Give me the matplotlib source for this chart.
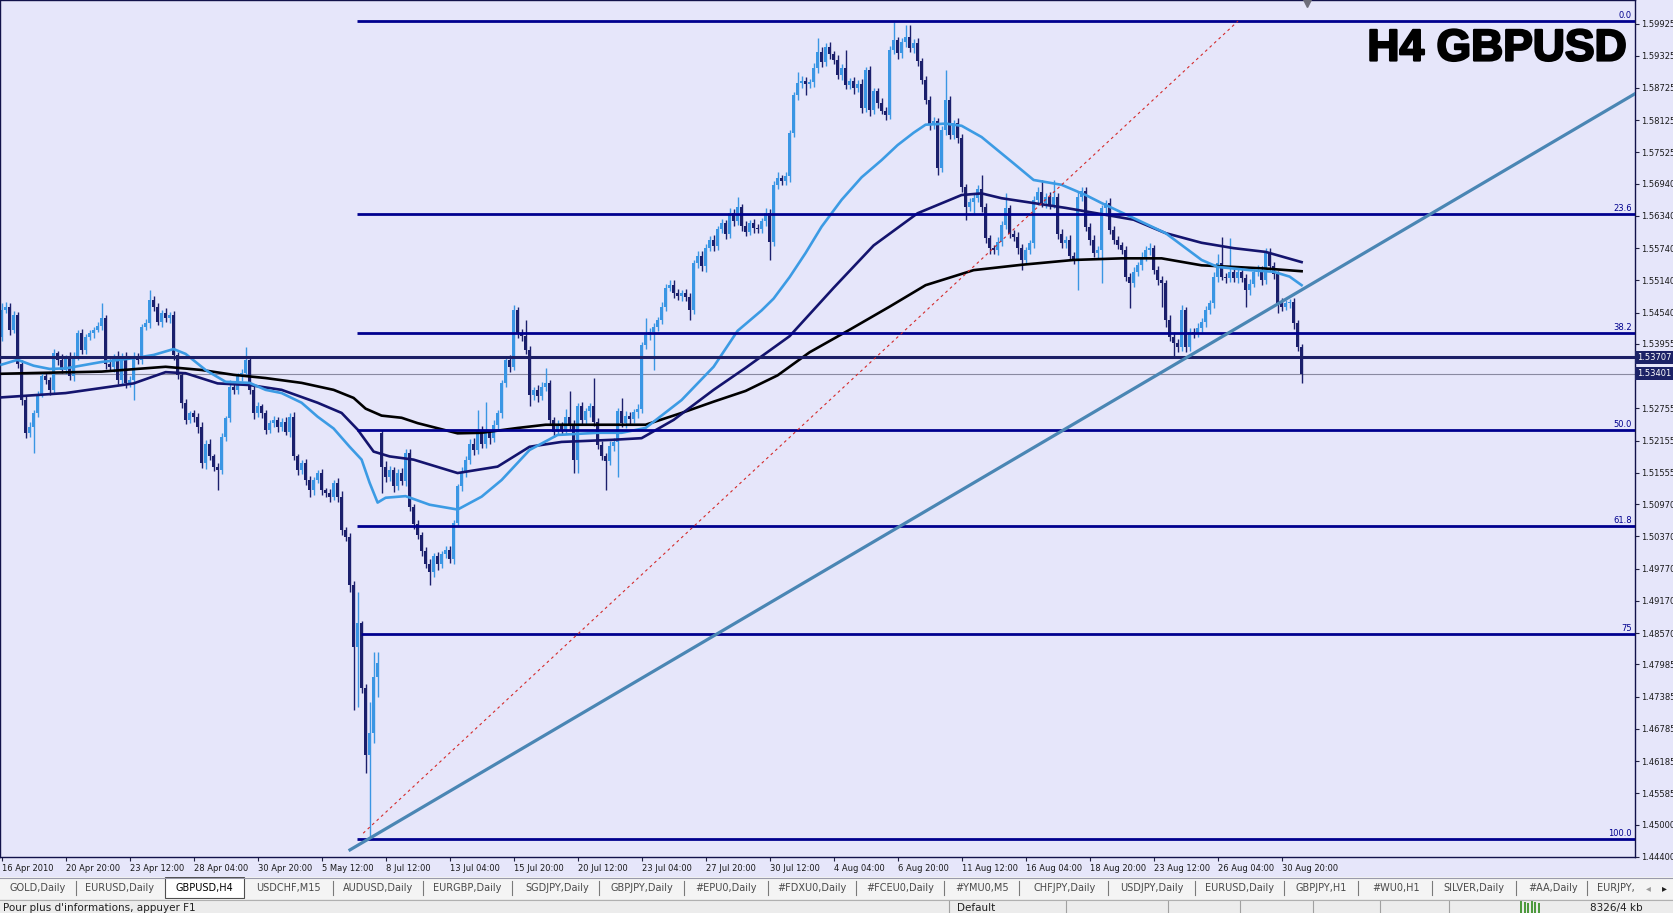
import numpy as np
import matplotlib.pyplot as plt
import matplotlib.patheffects as pe
from matplotlib.patches import Rectangle
from matplotlib.transforms import blended_transform_factory

plt.rcParams['font.family'] = ['DejaVu Sans']

# ---- H4 GBPUSD candles (bar 0 = 16 Apr 2010) ----
first_open = 1.5409
gap_bar = 95          # history hole between 5 May and 8 Jul
gap_open = 1.5229

closes = [
    1.5459, 1.5465, 1.5422, 1.5450, 1.5359, 1.5291, 1.5229, 1.5241, 1.5266, 1.5303,
    1.5335, 1.5328, 1.5310, 1.5378, 1.5366, 1.5347, 1.5369, 1.5335, 1.5372, 1.5415,
    1.5384, 1.5409, 1.5415, 1.5422, 1.5429, 1.5443, 1.5359, 1.5353, 1.5372, 1.5328,
    1.5372, 1.5322, 1.5328, 1.5372, 1.5366, 1.5428, 1.5434, 1.5477, 1.5465, 1.5437,
    1.5453, 1.5443, 1.5449, 1.5375, 1.5338, 1.5285, 1.5254, 1.5266, 1.5260, 1.5241,
    1.5173, 1.5210, 1.5186, 1.5167, 1.5161, 1.5223, 1.5257, 1.5316, 1.5310, 1.5335,
    1.5341, 1.5366, 1.5310, 1.5266, 1.5279, 1.5266, 1.5235, 1.5248, 1.5254, 1.5241,
    1.5251, 1.5232, 1.5260, 1.5186, 1.5161, 1.5173, 1.5142, 1.5123, 1.5142, 1.5155,
    1.5123, 1.5117, 1.5110, 1.5136, 1.5111, 1.5049, 1.5036, 1.4946, 1.4831, 1.4875,
    1.4754, 1.4630, 1.4671, 1.4775, 1.4801, 1.5167, 1.5148, 1.5160, 1.5130, 1.5155,
    1.5140, 1.5192, 1.5092, 1.5060, 1.5040, 1.5010, 1.4985, 1.4970, 1.5000, 1.4985,
    1.5005, 1.5012, 1.4995, 1.5062, 1.5130, 1.5155, 1.5180, 1.5210, 1.5198, 1.5235,
    1.5210, 1.5230, 1.5220, 1.5245, 1.5266, 1.5322, 1.5366, 1.5353, 1.5459, 1.5415,
    1.5410, 1.5384, 1.5300, 1.5310, 1.5298, 1.5316, 1.5322, 1.5254, 1.5232, 1.5245,
    1.5236, 1.5260, 1.5245, 1.5180, 1.5279, 1.5254, 1.5270, 1.5280, 1.5250, 1.5208,
    1.5186, 1.5178, 1.5205, 1.5212, 1.5270, 1.5248, 1.5262, 1.5255, 1.5268, 1.5275,
    1.5393, 1.5412, 1.5418, 1.5428, 1.5440, 1.5465, 1.5500, 1.5505, 1.5490, 1.5485,
    1.5490, 1.5483, 1.5459, 1.5546, 1.5560, 1.5540, 1.5575, 1.5590, 1.5578, 1.5610,
    1.5620, 1.5600, 1.5640, 1.5625, 1.5650, 1.5615, 1.5605, 1.5620, 1.5612, 1.5610,
    1.5625, 1.5639, 1.5586, 1.5692, 1.5705, 1.5700, 1.5708, 1.5788, 1.5859, 1.5881,
    1.5886, 1.5880, 1.5884, 1.5909, 1.5940, 1.5921, 1.5949, 1.5935, 1.5925, 1.5897,
    1.5910, 1.5878, 1.5885, 1.5872, 1.5880, 1.5835, 1.5906, 1.5831, 1.5866, 1.5844,
    1.5830, 1.5822, 1.5943, 1.5962, 1.5937, 1.5958, 1.5968, 1.5946, 1.5956, 1.5922,
    1.5887, 1.5850, 1.5804, 1.5810, 1.5723, 1.5794, 1.5850, 1.5785, 1.5807, 1.5779,
    1.5688, 1.5651, 1.5660, 1.5667, 1.5685, 1.5651, 1.5592, 1.5574, 1.5570, 1.5586,
    1.5617, 1.5648, 1.5601, 1.5595, 1.5574, 1.5552, 1.5570, 1.5583, 1.5663, 1.5679,
    1.5658, 1.5670, 1.5655, 1.5670, 1.5601, 1.5583, 1.5590, 1.5560, 1.5552, 1.5670,
    1.5680, 1.5614, 1.5589, 1.5565, 1.5570, 1.5648, 1.5658, 1.5608, 1.5590, 1.5580,
    1.5570, 1.5521, 1.5509, 1.5530, 1.5543, 1.5558, 1.5571, 1.5574, 1.5533, 1.5515,
    1.5509, 1.5440, 1.5409, 1.5397, 1.5390, 1.5459, 1.5390, 1.5418, 1.5415, 1.5425,
    1.5437, 1.5459, 1.5471, 1.5521, 1.5546, 1.5521, 1.5518, 1.5530, 1.5518, 1.5530,
    1.5518, 1.5496, 1.5508, 1.5530, 1.5533, 1.5515, 1.5567, 1.5540, 1.5525, 1.5472,
    1.5465, 1.5471, 1.5474, 1.5434, 1.5390, 1.5340,
]

# wick lengths in pips above / below each body
wick_up = [
    13, 8, 6, 7, 5, 6, 8, 10, 6, 5,
    7, 9, 6, 8, 5, 10, 6, 12, 8, 6,
    9, 5, 7, 6, 8, 28, 6, 9, 5, 10,
    6, 8, 7, 9, 6, 5, 8, 19, 7, 6,
    5, 9, 6, 8, 5, 6, 8, 5, 7, 6,
    9, 6, 8, 5, 7, 6, 5, 12, 8, 6,
    7, 24, 6, 8, 9, 5, 7, 6, 8, 5,
    6, 9, 7, 8, 5, 6, 8, 7, 5, 6,
    7, 5, 8, 6, 9, 10, 6, 8, 7, 58,
    5, 8, 58, 47, 21, 6, 10, 8, 6, 7,
    9, 8, 7, 6, 8, 5, 7, 9, 6, 8,
    5, 7, 8, 6, 5, 12, 6, 8, 10, 38,
    7, 58, 6, 8, 7, 6, 5, 9, 9, 6,
    8, 30, 7, 6, 9, 8, 28, 7, 6, 9,
    6, 15, 47, 8, 6, 9, 7, 6, 52, 8,
    7, 6, 9, 8, 6, 24, 8, 7, 6, 9,
    6, 31, 8, 7, 6, 9, 8, 10, 10, 7,
    6, 8, 7, 6, 9, 8, 7, 6, 8, 5,
    9, 7, 8, 6, 20, 7, 9, 6, 8, 7,
    6, 9, 8, 7, 10, 6, 8, 7, 6, 22,
    8, 7, 6, 9, 25, 8, 7, 9, 6, 8,
    7, 33, 6, 8, 7, 9, 6, 8, 7, 6,
    9, 7, 8, 34, 6, 8, 22, 22, 7, 9,
    6, 8, 7, 9, 6, 8, 56, 7, 6, 9,
    8, 6, 7, 9, 6, 25, 8, 7, 6, 9,
    8, 28, 7, 6, 9, 8, 6, 7, 9, 8,
    22, 7, 8, 31, 6, 9, 7, 8, 6, 9,
    8, 7, 6, 9, 8, 7, 6, 9, 8, 7,
    6, 8, 7, 9, 6, 8, 7, 10, 6, 8,
    7, 6, 9, 8, 7, 10, 6, 8, 7, 9,
    6, 8, 7, 9, 18, 49, 7, 62, 8, 6,
    9, 7, 8, 6, 9, 7, 7, 7, 8, 6,
    9, 7, 6, 8, 7, 6,
]
wick_dn = [
    8, 6, 9, 7, 8, 10, 9, 6, 49, 7,
    6, 8, 10, 7, 9, 6, 8, 7, 9, 6,
    8, 7, 6, 9, 5, 8, 10, 7, 9, 8,
    7, 9, 6, 37, 8, 7, 6, 9, 8, 7,
    9, 6, 8, 10, 7, 9, 8, 6, 9, 12,
    8, 10, 7, 9, 38, 7, 9, 6, 8, 7,
    9, 6, 8, 10, 7, 9, 8, 6, 7, 9,
    8, 7, 9, 6, 10, 7, 9, 12, 8, 6,
    9, 7, 8, 6, 9, 10, 8, 12, 117, 112,
    9, 34, 155, 19, 37, 50, 9, 8, 10, 7,
    8, 9, 7, 10, 8, 9, 7, 23, 8, 10,
    7, 9, 8, 10, 6, 9, 7, 8, 10, 7,
    9, 8, 10, 7, 9, 8, 7, 9, 6, 8,
    9, 7, 21, 8, 10, 7, 9, 8, 10, 7,
    9, 8, 7, 25, 25, 9, 7, 10, 8, 9,
    7, 55, 8, 9, 64, 7, 9, 8, 7, 10,
    8, 7, 9, 71, 8, 7, 9, 6, 8, 7,
    9, 8, 19, 7, 9, 8, 10, 7, 9, 8,
    7, 9, 8, 10, 7, 9, 8, 7, 9, 8,
    7, 9, 34, 8, 7, 9, 8, 10, 7, 9,
    8, 20, 7, 9, 8, 10, 7, 9, 8, 7,
    9, 8, 7, 10, 8, 9, 7, 11, 8, 9,
    7, 9, 8, 7, 10, 8, 9, 7, 8, 9,
    8, 7, 9, 8, 13, 7, 9, 8, 7, 9,
    10, 25, 8, 20, 7, 9, 8, 10, 7, 9,
    8, 7, 9, 8, 10, 19, 8, 7, 9, 8,
    7, 9, 8, 7, 10, 8, 9, 7, 8, 56,
    9, 8, 10, 7, 9, 61, 8, 7, 9, 8,
    7, 9, 47, 8, 7, 9, 8, 10, 7, 9,
    44, 12, 8, 25, 9, 7, 10, 8, 9, 7,
    8, 9, 7, 8, 10, 7, 9, 8, 7, 9,
    8, 31, 9, 7, 8, 10, 7, 8, 9, 19,
    8, 7, 9, 10, 8, 18,
]

# moving averages, read at the bars where they could be seen
fast_bars = [0, 4, 8, 12, 16, 25, 33, 38, 43, 46, 51, 56, 62, 66, 70, 75, 79, 83, 87, 90,
             92, 94, 96, 101, 107, 114, 120, 125, 132, 139, 149, 155, 161, 170, 178, 184,
             190, 193, 197, 201, 205, 210, 215, 220, 224, 228, 231, 236, 240, 245, 253,
             258, 265, 271, 275, 283, 291, 300, 304, 312, 318, 322, 325]
fast_ma = [1.5357, 1.5366, 1.5355, 1.5349, 1.5350, 1.5362, 1.5369, 1.5375, 1.5386, 1.5377,
           1.5347, 1.5325, 1.5323, 1.5310, 1.5304, 1.5286, 1.5260, 1.5238, 1.5204, 1.5180,
           1.5137, 1.5100, 1.5109, 1.5112, 1.5096, 1.5087, 1.5111, 1.5142, 1.5198, 1.5226,
           1.5230, 1.5230, 1.5239, 1.5291, 1.5353, 1.5420, 1.5458, 1.5480, 1.5520, 1.5565,
           1.5614, 1.5664, 1.5706, 1.5738, 1.5766, 1.5789, 1.5804, 1.5806, 1.5802, 1.5781,
           1.5732, 1.5701, 1.5692, 1.5673, 1.5658, 1.5630, 1.5602, 1.5552, 1.5539, 1.5533,
           1.5530, 1.5521, 1.5505]
mid_bars = [0, 16, 33, 41, 46, 54, 62, 70, 79, 85, 89, 93, 97, 103, 114, 124, 132, 140,
            153, 160, 168, 178, 186, 197, 208, 218, 229, 240, 245, 250, 266, 283, 291,
            300, 308, 316, 325]
mid_ma = [1.5296, 1.5304, 1.5322, 1.5343, 1.5341, 1.5322, 1.5319, 1.5310, 1.5286, 1.5267,
          1.5236, 1.5195, 1.5186, 1.5180, 1.5155, 1.5167, 1.5204, 1.5213, 1.5217, 1.5220,
          1.5254, 1.5310, 1.5351, 1.5410, 1.5500, 1.5579, 1.5639, 1.5673, 1.5676, 1.5667,
          1.5649, 1.5627, 1.5602, 1.5584, 1.5574, 1.5567, 1.5548]
slow_bars = [0, 12, 25, 41, 50, 58, 66, 75, 83, 88, 91, 95, 100, 104, 114, 120, 129, 136,
             149, 161, 170, 178, 186, 194, 202, 212, 222, 231, 243, 255, 268, 280, 290, 300,
             316, 325]
slow_ma = [1.5340, 1.5342, 1.5344, 1.5353, 1.5347, 1.5338, 1.5332, 1.5323, 1.5310, 1.5295,
           1.5275, 1.5262, 1.5258, 1.5248, 1.5229, 1.5230, 1.5239, 1.5245, 1.5245, 1.5245,
           1.5267, 1.5288, 1.5308, 1.5337, 1.5380, 1.5422, 1.5465, 1.5505, 1.5533, 1.5543,
           1.5552, 1.5555, 1.5555, 1.5542, 1.5536, 1.5531]

# drawn objects
fib_high = 1.5997
fib_low = 1.4474
fib_levels = [0.0, 23.6, 38.2, 50.0, 61.8, 75.0, 100.0]
fib_names = ['0.0', '23.6', '38.2', '50.0', '61.8', '75', '100.0']
fib_start = [88.85, 88.85, 88.85, 88.85, 88.85, 89.85, 88.85]
support_price = 1.53707
bid_price = 1.53401
trend_bars = [87.1, 409.1]
trend_prices = [1.4453, 1.5865]
fib_base_bars = [90.4, 309.1]
fib_base_prices = [1.4484, 1.5997]

yticks = [1.59925, 1.59325, 1.58725, 1.58125, 1.57525, 1.56940, 1.56340, 1.55740,
          1.55140, 1.54540, 1.53955, 1.52755, 1.52155, 1.51555, 1.50970, 1.50370,
          1.49770, 1.49170, 1.48570, 1.47985, 1.47385, 1.46785, 1.46185, 1.45585,
          1.45000, 1.44400]
xtick_labels = ['16 Apr 2010', '20 Apr 20:00', '23 Apr 12:00', '28 Apr 04:00', '30 Apr 20:00',
                '5 May 12:00', '8 Jul 12:00', '13 Jul 04:00', '15 Jul 20:00', '20 Jul 12:00',
                '23 Jul 04:00', '27 Jul 20:00', '30 Jul 12:00', '4 Aug 04:00', '6 Aug 20:00',
                '11 Aug 12:00', '16 Aug 04:00', '18 Aug 20:00', '23 Aug 12:00', '26 Aug 04:00',
                '30 Aug 20:00']
xtick_bars = np.arange(0, 321, 16)

tabs = ['GOLD,Daily', 'EURUSD,Daily', 'GBPUSD,H4', 'USDCHF,M15', 'AUDUSD,Daily',
        'EURGBP,Daily', 'SGDJPY,Daily', 'GBPJPY,Daily', '#EPU0,Daily', '#FDXU0,Daily',
        '#FCEU0,Daily', '#YMU0,M5', 'CHFJPY,Daily', 'USDJPY,Daily', 'EURUSD,Daily',
        'GBPJPY,H1', '#WU0,H1', 'SILVER,Daily', '#AA,Daily', 'EURJPY,']
tab_x = [38, 120, 204, 288, 378, 467, 557, 642, 726, 812, 900, 982, 1065, 1152, 1240,
         1321, 1396, 1474, 1553, 1618]
tab_sep = [76, 333, 423, 512, 599, 684, 768, 856, 944, 1019, 1108, 1195, 1284, 1358,
           1432, 1516, 1587]

assert len(closes) == len(wick_up) == len(wick_dn)

BG = '#E6E6FA'
BULL = '#3A96E4'
BEAR = '#1B1F6C'
FIB = '#00008E'

W, H = 1673, 913
fig = plt.figure(figsize=(W / 100, H / 100), dpi=100)
fig.patch.set_facecolor(BG)
ax = fig.add_axes([0, 1 - 857 / H, 1635 / W, 857 / H])
ax.set_facecolor(BG)

c = np.array(closes)
o = np.concatenate([[first_open], c[:-1]])
o[gap_bar] = gap_open
x = np.arange(len(c))
top = np.maximum(o, c)
bot = np.minimum(o, c)
hi = top + np.array(wick_up) * 1e-4
lo = bot - np.array(wick_dn) * 1e-4
cols = np.where(c >= o, BULL, BEAR)

ax.axhline(bid_price, color='#8A8AA0', lw=0.8, zorder=1)
ax.vlines(x, lo, hi, colors=cols, lw=1.0, zorder=2)
ax.bar(x, np.maximum(top - bot, 0.00006), bottom=bot, width=0.8, color=cols,
       linewidth=0, zorder=2)

ax.plot(slow_bars, slow_ma, color='black', lw=1.9, zorder=3)
ax.plot(mid_bars, mid_ma, color='#14146E', lw=1.9, zorder=3)
ax.plot(fast_bars, fast_ma, color='#3C9BE4', lw=1.9, zorder=3)

yblend = blended_transform_factory(ax.transAxes, ax.transData)
for lvl, name, start in zip(fib_levels, fib_names, fib_start):
    p = fib_high - (fib_high - fib_low) * lvl / 100
    ax.hlines(p, start, 420, color=FIB, lw=2.0, zorder=4)
    ax.text(1 - 3 / 1635, p + 0.0002, name, transform=yblend, ha='right', va='bottom',
            fontsize=6, color=FIB, zorder=6)

ax.axhline(support_price, color='#1C1F66', lw=2.2, zorder=4)
ax.plot(trend_bars, trend_prices, color='#4A86B4', lw=2.3, zorder=5)
ax.plot(fib_base_bars, fib_base_prices, color='#D42A2A', lw=0.8, ls=(0, (2.5, 3)), zorder=5)

ax.text(1 - 8 / 1635, 1 - 49 / 857, 'H4 GBPUSD', transform=ax.transAxes, ha='right',
        va='center', fontsize=32, fontweight='bold', family='Liberation Sans',
        color='black', zorder=7,
        path_effects=[pe.withStroke(linewidth=1.6, foreground='black')])

xblend = blended_transform_factory(ax.transData, ax.transAxes)
ax.plot([326.35], [0.997], marker='v', ms=6, color='#6E6E7A', transform=xblend,
        clip_on=False, zorder=7)

ax.set_xlim(-0.4, 408.35)
ax.set_ylim(1.44397, 1.60363)

ax.yaxis.tick_right()
ax.set_yticks(yticks)
ax.set_yticklabels([f'{v:.5f}' for v in yticks])
ax.tick_params(axis='y', direction='out', length=3, width=0.8, pad=1.5, labelsize=6,
               color='#202040', labelcolor='#1A1A1A')
ax.set_xticks(xtick_bars)
ax.set_xticklabels(xtick_labels, ha='left')
ax.tick_params(axis='x', direction='out', length=3, width=0.8, pad=2, labelsize=6,
               color='#202040', labelcolor='#1A1A1A')
for s in ax.spines.values():
    s.set_color('#12124A')
    s.set_linewidth(1.0)

for price, txt in [(support_price, '1.53707'), (bid_price, '1.53401')]:
    ax.text(1 + 2 / 1635, price, txt, transform=yblend, ha='left', va='center',
            fontsize=6, color='white', clip_on=False, zorder=8,
            bbox=dict(boxstyle='square,pad=0.25', fc='#1C2266', ec='none'))

# terminal tab strip and status bar
bx = fig.add_axes([0, 0, 1, 36 / H])
bx.set_xlim(0, W)
bx.set_ylim(913, 877)
bx.axis('off')
bx.add_patch(Rectangle((0, 877), W, 22, fc='#F4F4F4', ec='none'))
bx.plot([0, W], [877.5, 877.5], color='#9A9AAA', lw=0.8)
bx.add_patch(Rectangle((165, 877), 79, 20.5, fc='white', ec='#505050', lw=0.8))
for t, tx in zip(tabs, tab_x):
    ha = 'left' if t == 'EURJPY,' else 'center'
    xx = 1597 if t == 'EURJPY,' else tx
    bx.text(xx, 888, t, ha=ha, va='center', fontsize=7,
            color='black' if t == 'GBPUSD,H4' else '#4A4A4A')
for sx in tab_sep:
    bx.plot([sx, sx], [881, 895], color='#7A7A7A', lw=0.8)
bx.text(1648, 888, '\u25c2', ha='center', va='center', fontsize=7, color='#9A9A9A')
bx.text(1664, 888, '\u25b8', ha='center', va='center', fontsize=7, color='#202020')

bx.add_patch(Rectangle((0, 899), W, 14, fc='#ECECEC', ec='none'))
bx.plot([0, W], [899.5, 899.5], color='#B0B0B0', lw=0.8)
bx.text(3, 902.5, "Pour plus d'informations, appuyer F1", ha='left', va='top',
        fontsize=7.5, color='#202020')
bx.text(957, 902.5, 'Default', ha='left', va='top', fontsize=7.5, color='#202020')
for sx in [949, 1066, 1168, 1240, 1313, 1380, 1449]:
    bx.plot([sx, sx], [901, 913], color='#A0A0A0', lw=0.8)
for k in range(6):
    bx.add_patch(Rectangle((1520 + k * 3.6, 901 + (k % 3)), 2, 12, fc='#4E9A3E', ec='none'))
bx.text(1590, 902.5, '8326/4 kb', ha='left', va='top', fontsize=7.5, color='#202020')

fig.savefig('out.png', dpi=100, facecolor=fig.get_facecolor())
